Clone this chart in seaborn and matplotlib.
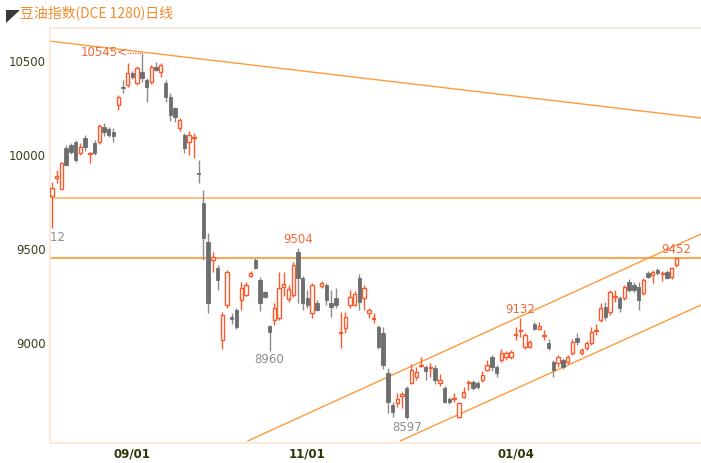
import numpy as np
import pandas as pd
import matplotlib
matplotlib.use("Agg")
import matplotlib.pyplot as plt
import seaborn as sns
from matplotlib.patches import Polygon

# 豆油指数 日线 OHLC
opens = [9782, 9876, 9819, 10037, 10053, 10069, 10011, 10090, 10005, 10064,
         10069, 10149, 10138, 10122, 10266, 10362, 10372, 10436, 10383, 10441,
         10399, 10388, 10468, 10441, 10383, 10309, 10250, 10144, 10106, 10069,
         10090, 9905, 9745, 9537, 9442, 9399, 9016, 9202, 9138, 9176,
         9229, 9255, 9356, 9442, 9335, 9271, 9090, 9122, 9133, 9298,
         9234, 9255, 9484, 9346, 9239, 9160, 9213, 9303, 9309, 9213,
         9239, 9053, 9080, 9202, 9202, 9346, 9239, 9160, 9128, 9085,
         9053, 8840, 8670, 8681, 8718, 8761, 8787, 8819, 8878, 8872,
         8867, 8867, 8787, 8761, 8702, 8702, 8606, 8713, 8788, 8793,
         8788, 8803, 8856, 8926, 8872, 8910, 8926, 8926, 9042, 9063,
         8979, 8979, 9101, 9074, 9037, 9000, 8899, 8894, 8910, 8899,
         8947, 9027, 8947, 8973, 9000, 9063, 9122, 9192, 9165, 9245,
         9239, 9239, 9325, 9309, 9298, 9266, 9372, 9362, 9388, 9367,
         9378, 9351, 9415]
highs = [9856, 9920, 9963, 10053, 10064, 10080, 10064, 10106, 10016, 10080,
         10165, 10170, 10149, 10144, 10319, 10399, 10489, 10447, 10473, 10545,
         10410, 10479, 10495, 10489, 10399, 10330, 10255, 10196, 10117, 10128,
         10120, 9973, 9814, 9585, 9484, 9415, 9165, 9388, 9160, 9186,
         9325, 9325, 9383, 9452, 9351, 9277, 9096, 9213, 9378, 9378,
         9309, 9431, 9504, 9356, 9282, 9319, 9229, 9330, 9319, 9282,
         9293, 9165, 9165, 9282, 9277, 9367, 9309, 9186, 9160, 9096,
         9085, 8867, 8686, 8734, 8739, 8771, 8888, 8872, 8926, 8883,
         8894, 8883, 8835, 8771, 8713, 8734, 8686, 8766, 8803, 8803,
         8798, 8851, 8910, 8936, 8883, 8968, 8958, 8963, 9085, 9132,
         9053, 9016, 9112, 9112, 9069, 9021, 8910, 8936, 8920, 8936,
         9021, 9053, 8973, 9011, 9085, 9101, 9213, 9218, 9282, 9282,
         9250, 9309, 9340, 9325, 9325, 9346, 9383, 9388, 9399, 9383,
         9388, 9404, 9452]
lows = [9612, 9851, 9819, 9940, 10005, 9963, 10000, 10021, 9957, 10000,
        10058, 10101, 10096, 10069, 10239, 10330, 10362, 10404, 10372, 10388,
        10282, 10378, 10447, 10415, 10282, 10180, 10175, 10128, 10011, 10000,
        9985, 9851, 9442, 9160, 9378, 9282, 8970, 9186, 9100, 9074,
        9176, 9250, 9351, 9394, 9170, 9239, 8960, 9096, 9122, 9250,
        9218, 9245, 9213, 9176, 9186, 9133, 9170, 9293, 9202, 9138,
        9186, 8973, 9053, 9186, 9197, 9176, 9176, 9133, 9106, 8968,
        8862, 8628, 8606, 8660, 8654, 8597, 8782, 8803, 8872, 8803,
        8819, 8782, 8771, 8681, 8676, 8686, 8600, 8708, 8750, 8750,
        8755, 8793, 8851, 8851, 8819, 8899, 8910, 8915, 9016, 9032,
        8968, 8973, 9069, 9069, 9016, 8963, 8819, 8872, 8862, 8888,
        8936, 8990, 8936, 8963, 8990, 9042, 9112, 9122, 9149, 9218,
        9165, 9229, 9271, 9271, 9176, 9255, 9346, 9319, 9362, 9330,
        9340, 9340, 9404]
closes = [9825, 9888, 9957, 9947, 10016, 9973, 10043, 10043, 10011, 10011,
          10154, 10122, 10106, 10101, 10309, 10356, 10436, 10415, 10463, 10410,
          10362, 10468, 10452, 10479, 10309, 10213, 10202, 10186, 10037, 10106,
          10096, 9900, 9558, 9213, 9458, 9335, 9149, 9378, 9128, 9085,
          9293, 9309, 9372, 9399, 9213, 9245, 9058, 9186, 9293, 9314,
          9287, 9415, 9346, 9213, 9202, 9309, 9176, 9319, 9229, 9192,
          9202, 9058, 9138, 9245, 9261, 9218, 9293, 9176, 9133, 8979,
          8883, 8686, 8633, 8702, 8729, 8606, 8856, 8845, 8883, 8851,
          8872, 8803, 8803, 8686, 8686, 8708, 8681, 8739, 8793, 8761,
          8766, 8830, 8883, 8872, 8840, 8947, 8947, 8952, 9048, 9069,
          9042, 9005, 9074, 9090, 9042, 8973, 8856, 8926, 8872, 8926,
          9005, 9005, 8963, 9000, 9058, 9069, 9186, 9138, 9271, 9250,
          9186, 9298, 9282, 9282, 9229, 9335, 9351, 9378, 9372, 9372,
          9346, 9399, 9452]

tick_pos = [17, 54, 98]
tick_labels = ['09/01', '11/01', '01/04']
y_ticks = [9000, 9500, 10000, 10500]

# 水平压力线 / 趋势线 (起点, 终点)
h_levels = [9773, 9452]
trend_lines = [((-0.4, 10606), (137.2, 10197)),
               ((41.4, 8479), (137.2, 9580)),
               ((73.6, 8479), (137.2, 9202))]

# 高低点标注: (K线序号, 'high'/'low')
marks = [(0, 'low'), (46, 'low'), (75, 'low'), (52, 'high'), (99, 'high'), (132, 'high')]
peak_idx = 19

RED = '#fa5a2c'
GRAY = '#6e6e6e'
ORANGE = '#ff9a3c'

sns.set_style("white")
plt.rcParams['font.family'] = ['Noto Sans CJK SC', 'DejaVu Sans']

df = pd.DataFrame({'o': opens, 'h': highs, 'l': lows, 'c': closes})
df['x'] = np.arange(len(df))
up = df['c'] >= df['o']

fig = plt.figure(figsize=(7.01, 4.63), dpi=100)
ax = fig.add_axes([50 / 701, 1 - 443 / 463, 651 / 701, 415 / 463])
ax.set_facecolor('white')

# 影线
ax.vlines(df.loc[up, 'x'], df.loc[up, 'l'], df.loc[up, 'h'], color=RED, lw=1, zorder=2)
ax.vlines(df.loc[~up, 'x'], df.loc[~up, 'l'], df.loc[~up, 'h'], color='#8a8a8a', lw=1, zorder=2)

# 实体
w = 0.72
body = (df['c'] - df['o']).abs().clip(lower=4)
bottom = df[['o', 'c']].min(axis=1)
ax.bar(df.loc[up, 'x'], body[up], w, bottom=bottom[up], facecolor='white',
       edgecolor=RED, linewidth=1, zorder=3)
ax.bar(df.loc[~up, 'x'], body[~up], w, bottom=bottom[~up], color=GRAY,
       edgecolor=GRAY, linewidth=0.6, zorder=3)

ax.axhline(h_levels[0], color='#ffac5c', lw=1.1, zorder=1)
ax.axhline(h_levels[1], color='#ff8c1a', lw=1.1, zorder=1)
for (x0, y0), (x1, y1) in trend_lines:
    sns.lineplot(x=[x0, x1], y=[y0, y1], ax=ax, color=ORANGE, lw=1, zorder=1)

# 标注
for i, kind in marks:
    if kind == 'high':
        ax.text(i, highs[i] + 12, str(highs[i]), color='#f2683a', fontsize=8.5,
                ha='center', va='bottom', family='DejaVu Sans', clip_on=True)
    else:
        xi = i - 0.45 if i == 0 else i
        ax.text(xi, lows[i] - 14, str(lows[i]), color='#8c8c8c', fontsize=8.5,
                ha='center', va='top', family='DejaVu Sans', clip_on=True)
ax.plot([15.9, peak_idx], [highs[peak_idx], highs[peak_idx]], color='#f2683a',
        lw=0.9, ls=(0, (1, 1)), zorder=2)
ax.text(15.9, highs[peak_idx], f'{highs[peak_idx]}<', color='#f2683a', fontsize=8.5,
        ha='right', va='center', family='DejaVu Sans')

ax.set_xlim(-0.42, 137.2)
ax.set_ylim(8468, 10676)
ax.set_xticks(tick_pos)
ax.set_xticklabels(tick_labels, fontweight='bold', fontsize=8.5, color='#33330a',
                   family='DejaVu Sans')
ax.set_yticks(y_ticks)
ax.set_yticklabels([str(v) for v in y_ticks], fontsize=8.5, color='#3c3c1e',
                   family='DejaVu Sans')
ax.tick_params(length=0, pad=3)
ax.set_xlabel('')
ax.set_ylabel('')
for side in ['left', 'bottom', 'top']:
    ax.spines[side].set_color('#fbe6d6')
    ax.spines[side].set_linewidth(1.2)
ax.spines['right'].set_visible(False)

fig.patches.append(Polygon([[6, 453], [20, 453], [6, 440]], closed=True,
                           transform=None, facecolor='#3a3a3a', edgecolor='none'))
fig.text(20 / 701, 1 - 13 / 463, '豆油指数(DCE 1280)日线', color='#f08a2c',
         fontsize=10, ha='left', va='center')

fig.savefig('out.png', dpi=100, facecolor='white')
